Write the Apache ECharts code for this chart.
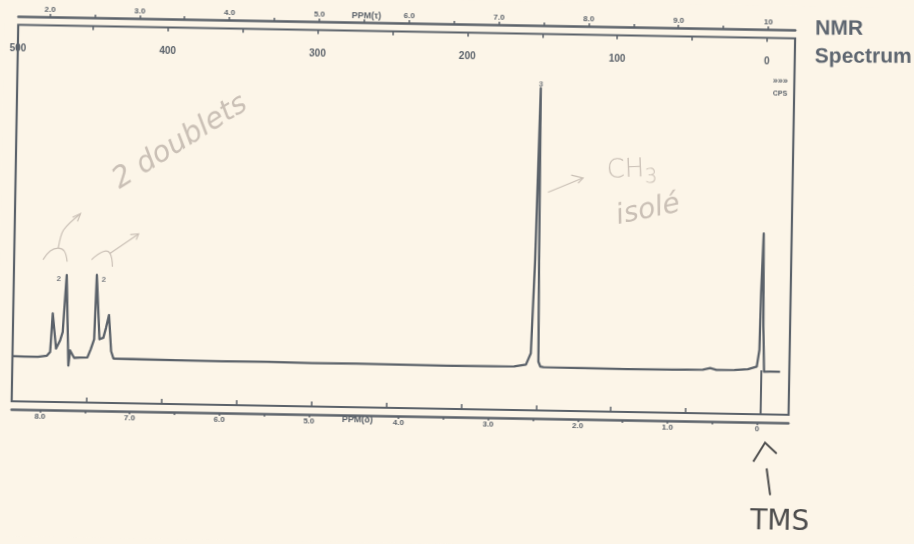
<!DOCTYPE html>
<html>
<head>
<meta charset="utf-8">
<script src="https://cdn.jsdelivr.net/npm/echarts@6/dist/echarts.min.js"></script>
<style>
  html, body { margin:0; padding:0; background:#fcf5e8; overflow:hidden; }
  #chart { width:914px; height:544px; transform: rotate(1deg); transform-origin: 457px 272px; }
</style>
</head>
<body>
<div id="chart"></div>
<script>
// ---- spectrum trace (chemical shift in ppm, relative intensity, CH3 = 100)
const spectrumPpm = [8.333, 8.20, 8.05, 7.95, 7.915, 7.893, 7.850, 7.806, 7.779, 7.745, 7.710, 7.693, 7.647,
  7.58, 7.500, 7.464, 7.428, 7.410, 7.369, 7.326, 7.298, 7.267, 7.237, 7.210, 7.0, 6.5, 6.0, 5.5, 5.0, 4.5,
  4.0, 3.5, 3.0, 2.75, 2.62, 2.568, 2.538, 2.508, 2.494, 2.482, 2.46, 2.425, 2.0, 1.5, 1.0, 0.65, 0.57, 0.50,
  0.3, 0.15, 0.052, 0.026, 0.018, 0.000, -0.014, -0.03, -0.10, -0.208];
const spectrumInt = [0.4, 0.3, 0.3, 0.8, 2.2, 16, 3.4, 6.4, 9.4, 29.9, -2.6, 2.8, 0.2,
  0.3, 0.4, 3.4, 7, 30.1, 7, 7.6, 11.2, 15.8, 2.8, 0.2, 0.1, 0, -0.1, 0, -0.2, -0.1,
  -0.2, -0.3, -0.2, -0.1, 0.6, 4.7, 38, 100, 38, 1.7, 0, -0.2, -0.3, -0.4, -0.3, -0.1, 0.5, -0.1,
  0, 0.3, 1.3, 7.3, 27.7, 49.2, 15.7, -0.5, -0.4, -0.4];

// ---- integration labels printed above peaks
const peakPpm = [7.745, 7.410, 2.508];
const peakInt = [29.9, 30.1, 100];
const peakLabel = ['2', '2', '3'];

// ---- TMS reference
const tmsPpm = 0;

// ---- axis tick labels
const hzLabels = [500, 400, 300, 200, 100, 0];
const hzTicks = [500, 450, 400, 350, 300, 250, 200, 150, 100, 50, 0];
const tauLabels = [2, 3, 4, 5, 6, 7, 8, 9, 10];
const tauTicks = [2, 2.5, 3, 3.5, 4, 4.5, 5, 5.5, 6, 6.5, 7, 7.5, 8, 8.5, 9, 9.5, 10];
const deltaLabels = [8, 7, 6, 5, 4, 3, 2, 1, 0];
const deltaTicks = [8, 7.5, 7, 6.5, 6, 5.5, 5, 4.5, 4, 3.5, 3, 2.5, 2, 1.5, 1, 0.5, 0];

const INK = '#5b626a';
const PENCIL = '#cac0b6';
const Y_MIN = -15.8, Y_MAX = 119.5;
const SPEC = 60; // MHz
const HZ_MIN = -18.66, HZ_MAX = 500;

const chart = echarts.init(document.getElementById('chart'), null, {renderer: 'canvas'});

const rulerLabel = {fontSize: 8, fontWeight: 'bold', color: INK, fontFamily: 'Liberation Sans'};

const option = {
  animation: false,
  backgroundColor: '#fcf5e8',
  grid: {left: 14, right: 123, top: 32.5, bottom: 135, show: true, borderColor: INK, borderWidth: 2.2, backgroundColor: 'transparent'},
  xAxis: [
    {type: 'value', min: HZ_MIN / SPEC, max: HZ_MAX / SPEC, inverse: true, show: false, splitLine: {show: false}},
    {type: 'value', min: HZ_MIN, max: HZ_MAX, inverse: true, position: 'top',
      axisLine: {show: false}, splitLine: {show: false},
      axisTick: {show: true, inside: true, length: 4, customValues: hzTicks, lineStyle: {color: INK, width: 1.5}},
      axisLabel: {inside: true, margin: 19, customValues: hzLabels, formatter: v => String(v), showMaxLabel: true, showMinLabel: true,
        fontSize: 10, fontWeight: 'bold', color: INK, fontFamily: 'Liberation Sans'}},
    {type: 'value', min: HZ_MIN, max: HZ_MAX, inverse: true, position: 'bottom',
      axisLine: {show: false}, splitLine: {show: false},
      axisTick: {show: true, inside: true, length: 5, customValues: hzTicks, lineStyle: {color: INK, width: 1.5}},
      axisLabel: {show: false}},
    {type: 'value', min: 1.649, max: 10.30, position: 'top', offset: 8.5,
      axisLine: {show: true, lineStyle: {color: INK, width: 2.5}}, splitLine: {show: false},
      axisTick: {show: true, length: 3, customValues: tauTicks, lineStyle: {color: INK, width: 1.5}},
      axisLabel: Object.assign({margin: 3, customValues: tauLabels,
        formatter: v => (v === 10 ? '10' : v.toFixed(1))}, rulerLabel)},
    {type: 'value', min: -0.349, max: 8.318, inverse: true, position: 'bottom', offset: 8,
      axisLine: {show: true, lineStyle: {color: INK, width: 2.5}}, splitLine: {show: false},
      axisTick: {show: true, length: 3, customValues: deltaTicks, lineStyle: {color: INK, width: 1.5}},
      axisLabel: Object.assign({margin: 3, customValues: deltaLabels,
        formatter: v => (v === 0 ? '0' : v.toFixed(1))}, rulerLabel)}
  ],
  yAxis: {type: 'value', min: Y_MIN, max: Y_MAX, show: false, splitLine: {show: false}},
  series: [
    {type: 'line', xAxisIndex: 0, yAxisIndex: 0, showSymbol: false, silent: true,
      data: spectrumPpm.map((p, i) => [p, spectrumInt[i]]),
      lineStyle: {color: INK, width: 2.3, join: 'round'}},
    {type: 'line', xAxisIndex: 0, yAxisIndex: 0, showSymbol: false, silent: true,
      data: [[tmsPpm, 0], [tmsPpm, Y_MIN]],
      lineStyle: {color: INK, width: 2}},
    {type: 'scatter', xAxisIndex: 0, yAxisIndex: 0, symbolSize: 0, silent: true,
      data: peakPpm.map((p, i) => ({value: [p, peakInt[i]], name: peakLabel[i],
        label: {offset: i === 0 ? [-8, 4] : (i === 1 ? [7, 5] : [0, -4])}})),
      label: {show: true, position: 'inside', formatter: p => p.name,
        fontSize: 8, fontWeight: 'bold', color: INK, fontFamily: 'Liberation Sans'}}
  ],
  graphic: [
    // ruler captions
    {type: 'text', x: 362, y: 18, style: {text: 'PPM(τ)', fill: INK, font: 'bold 9px "Liberation Sans"', textAlign: 'center', textVerticalAlign: 'middle'}},
    {type: 'text', x: 360, y: 422, style: {text: 'PPM(δ)', fill: INK, font: 'bold 9px "Liberation Sans"', textAlign: 'center', textVerticalAlign: 'middle'}},
    {type: 'text', x: 777, y: 76, style: {text: '»»»', fill: INK, font: 'bold 9px "Liberation Sans"', textAlign: 'center', textVerticalAlign: 'middle'}},
    {type: 'text', x: 777, y: 88, style: {text: 'CPS', fill: INK, font: 'bold 7px "Liberation Sans"', textAlign: 'center', textVerticalAlign: 'middle'}},
    // title
    {type: 'text', x: 811, y: 22.7, rotation: 0.01745, style: {text: 'NMR', fill: '#5e6670', font: 'bold 21px "Liberation Sans"', textAlign: 'left', textVerticalAlign: 'middle'}},
    {type: 'text', x: 811, y: 50.7, rotation: 0.01745, style: {text: 'Spectrum', fill: '#5e6670', font: 'bold 21px "Liberation Sans"', textAlign: 'left', textVerticalAlign: 'middle'}},
    // pencil annotations
    {type: 'text', x: 178, y: 147, rotation: 0.576, style: {text: '2 doublets', fill: PENCIL, font: 'italic 200 29px "DejaVu Sans"', textAlign: 'center', textVerticalAlign: 'middle'}},
    {type: 'text', x: 630, y: 167, rotation: 0.05, style: {text: 'CH{s|3}', fill: PENCIL, font: '200 26px "DejaVu Sans"', textAlign: 'center', textVerticalAlign: 'middle',
      rich: {s: {fontSize: 20, fontWeight: 200, fontFamily: 'DejaVu Sans', fill: PENCIL, padding: [16, 0, 0, 0]}}}},
    {type: 'text', x: 647, y: 207, rotation: 0.22, style: {text: 'isolé', fill: PENCIL, font: 'italic 200 28px "DejaVu Sans"', textAlign: 'center', textVerticalAlign: 'middle'}},
    {type: 'polyline', shape: {points: [[546.6, 190.8], [581.4, 175.8]]}, style: {stroke: PENCIL, lineWidth: 1.2, fill: null}},
    {type: 'polyline', shape: {points: [[569.5, 173.1], [581.4, 175.8], [576.5, 181.1]]}, style: {stroke: PENCIL, lineWidth: 1.2, fill: null}},
    {type: 'polyline', shape: {points: [[42.9, 266.9], [50, 258], [57.9, 255.2], [64, 258], [67, 268.5]], smooth: 0.4}, style: {stroke: PENCIL, lineWidth: 1.2, fill: null}},
    {type: 'polyline', shape: {points: [[57.9, 255.2], [62.8, 237], [79.6, 220.2]], smooth: 0.3}, style: {stroke: PENCIL, lineWidth: 1.2, fill: null}},
    {type: 'polyline', shape: {points: [[71.6, 224], [79.6, 220.2], [76.6, 228]]}, style: {stroke: PENCIL, lineWidth: 1.2, fill: null}},
    {type: 'polyline', shape: {points: [[91.4, 266.1], [103, 257.8], [109.7, 259.4], [112.4, 272.8]], smooth: 0.4}, style: {stroke: PENCIL, lineWidth: 1.2, fill: null}},
    {type: 'polyline', shape: {points: [[109.7, 259.4], [138, 239.4]]}, style: {stroke: PENCIL, lineWidth: 1.2, fill: null}},
    {type: 'polyline', shape: {points: [[129.7, 240.4], [138, 239.4], [135.7, 245.4]]}, style: {stroke: PENCIL, lineWidth: 1.2, fill: null}},
    // ink annotation for TMS
    {type: 'polyline', shape: {points: [[756.5, 456.4], [768, 437.3], [779.8, 447.9]]}, style: {stroke: '#4d4d4d', lineWidth: 2, fill: null}},
    {type: 'polyline', shape: {points: [[770, 463], [774, 489.6]]}, style: {stroke: '#4d4d4d', lineWidth: 2, fill: null}},
    {type: 'text', x: 784, y: 517, style: {text: 'TMS', fill: '#4d4d4d', font: '28px "DejaVu Sans"', textAlign: 'center', textVerticalAlign: 'middle'}}
  ]
};
chart.setOption(option);
</script>
</body>
</html>
